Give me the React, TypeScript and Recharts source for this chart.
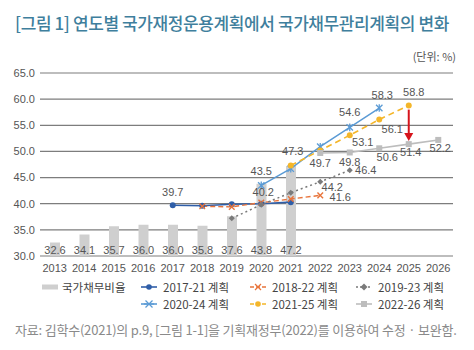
import { ComposedChart, Bar, Line, XAxis, YAxis, CartesianGrid, LabelList, ReferenceLine } from 'recharts';

const years = ['2013', '2014', '2015', '2016', '2017', '2018', '2019', '2020', '2021', '2022', '2023', '2024', '2025', '2026'];
const debtRatio = [32.6, 34.1, 35.7, 36.0, 36.0, 35.8, 37.6, 43.8, 47.2, null, null, null, null, null];
const plan2017 = [null, null, null, null, 39.7, 39.6, 39.9, 40.0, 40.3, null, null, null, null, null];
const plan2018 = [null, null, null, null, null, 39.5, 39.4, 40.2, 40.9, 41.6, null, null, null, null];
const plan2019 = [null, null, null, null, null, null, 37.2, 39.8, 42.1, 44.2, 46.4, null, null, null];
const plan2020 = [null, null, null, null, null, null, null, 43.5, 46.7, 50.9, 54.6, 58.3, null, null];
const plan2021 = [null, null, null, null, null, null, null, null, 47.3, 50.2, 53.1, 56.1, 58.8, null];
const plan2022 = [null, null, null, null, null, null, null, null, null, 49.7, 49.8, 50.6, 51.4, 52.2];
const yTicks = [30, 35, 40, 45, 50, 55, 60, 65];

const data = years.map((year, i) => ({
  year,
  debt: debtRatio[i],
  p2017: plan2017[i],
  p2018: plan2018[i],
  p2019: plan2019[i],
  p2020: plan2020[i],
  p2021: plan2021[i],
  p2022: plan2022[i],
}));

// where each shown value label sits relative to its point [dx, dy]
const labelSpots: Record<string, Record<string, [number, number]>> = {
  p2017: { '2017': [0, -13] },
  p2018: { '2020': [2, -11], '2022': [20, 2] },
  p2019: { '2022': [12, 5], '2023': [16, 0] },
  p2020: { '2020': [0, -14], '2023': [0, -15], '2024': [3, -13] },
  p2021: { '2021': [2, -15], '2023': [13, 7], '2024': [13, 9], '2025': [5, -13] },
  p2022: { '2022': [0, 10], '2023': [0, 10], '2024': [8, 9], '2025': [2, 8], '2026': [2, 8] },
};

const NUM_FONT = '"Liberation Sans", Arial, sans-serif';
const KR_FONT = '"Noto Sans CJK KR", "Noto Sans", sans-serif';

const C = {
  debt: '#cfcfcf',
  p2017: '#2f5ea8',
  p2018: '#e8743b',
  p2019: '#7a7a7a',
  p2020: '#5b9bd5',
  p2021: '#f4b62a',
  p2022: '#bdbdbd',
};

const makeLabel = (key: string) => (props: any) => {
  const { x, y, index, value } = props;
  const spot = labelSpots[key][years[index]];
  if (!spot || value == null) return null;
  return (
    <text
      key={`${key}-lbl-${index}`}
      x={x + spot[0]}
      y={y + spot[1]}
      textAnchor="middle"
      dominantBaseline="central"
      fontSize={11}
      fontFamily={NUM_FONT}
      fill="#555"
    >
      {Number(value).toFixed(1)}
    </text>
  );
};

const circleDot = (color: string, r: number) => (props: any) => {
  const { cx, cy, index, value } = props;
  if (value == null || cx == null || cy == null) return <g key={index} />;
  return <circle key={index} cx={cx} cy={cy} r={r} fill={color} stroke="none" />;
};

const crossDot = (color: string) => (props: any) => {
  const { cx, cy, index, value } = props;
  if (value == null || cx == null || cy == null) return <g key={index} />;
  const s = 2.8;
  return (
    <g key={index} stroke={color} strokeWidth={1.4}>
      <line x1={cx - s} y1={cy - s} x2={cx + s} y2={cy + s} />
      <line x1={cx - s} y1={cy + s} x2={cx + s} y2={cy - s} />
    </g>
  );
};

const starDot = (color: string) => (props: any) => {
  const { cx, cy, index, value } = props;
  if (value == null || cx == null || cy == null) return <g key={index} />;
  const s = 3.2;
  return (
    <g key={index} stroke={color} strokeWidth={1.3}>
      <line x1={cx - s} y1={cy - s} x2={cx + s} y2={cy + s} />
      <line x1={cx - s} y1={cy + s} x2={cx + s} y2={cy - s} />
      <line x1={cx} y1={cy - s - 0.6} x2={cx} y2={cy + s + 0.6} />
    </g>
  );
};

const diamondDot = (color: string) => (props: any) => {
  const { cx, cy, index, value } = props;
  if (value == null || cx == null || cy == null) return <g key={index} />;
  const s = 3;
  return (
    <polygon
      key={index}
      points={`${cx},${cy - s} ${cx + s},${cy} ${cx},${cy + s} ${cx - s},${cy}`}
      fill={color}
    />
  );
};

const squareDot = (color: string) => (props: any) => {
  const { cx, cy, index, value } = props;
  if (value == null || cx == null || cy == null) return <g key={index} />;
  return <rect key={index} x={cx - 3} y={cy - 3} width={6} height={6} fill={color} />;
};

const barLabel = (props: any) => {
  const { x, y, width, height, value, index } = props;
  if (value == null) return null;
  return (
    <text
      key={`bar-${index}`}
      x={x + width / 2}
      y={y + height - 6}
      textAnchor="middle"
      dominantBaseline="central"
      fontSize={11}
      fontFamily={NUM_FONT}
      fill="#555"
    >
      {Number(value).toFixed(1)}
    </text>
  );
};

const arrowShape = (props: any) => {
  const { x1, y1, x2, y2 } = props;
  if (x1 == null) return <g />;
  return (
    <g>
      <line x1={x1} y1={y1} x2={x2} y2={y2 - 7} stroke="#d6141c" strokeWidth={2} />
      <polygon points={`${x2 - 4.5},${y2 - 8} ${x2 + 4.5},${y2 - 8} ${x2},${y2}`} fill="#d6141c" />
    </g>
  );
};

const legendItems = [
  { name: '국가채무비율', kind: 'bar', color: C.debt, col: 0, row: 0 },
  { name: '2017-21 계획', kind: 'circle', color: C.p2017, col: 1, row: 0, dash: undefined },
  { name: '2018-22 계획', kind: 'cross', color: C.p2018, col: 2, row: 0, dash: '4 2' },
  { name: '2019-23 계획', kind: 'diamond', color: C.p2019, col: 3, row: 0, dash: '2 2' },
  { name: '2020-24 계획', kind: 'star', color: C.p2020, col: 1, row: 1, dash: undefined },
  { name: '2021-25 계획', kind: 'circle', color: C.p2021, col: 2, row: 1, dash: '4 2' },
  { name: '2022-26 계획', kind: 'square', color: C.p2022, col: 3, row: 1, dash: undefined },
];

const legendCols = [42, 141, 250, 356];

function LegendIcon({ item, x, y }: any) {
  if (item.kind === 'bar') {
    return <rect x={x} y={y - 2.5} width={16} height={5} fill={item.color} />;
  }
  const cx = x + 8;
  let marker = null;
  if (item.kind === 'circle') marker = <circle cx={cx} cy={y} r={2.8} fill={item.color} />;
  if (item.kind === 'square') marker = <rect x={cx - 3} y={y - 3} width={6} height={6} fill={item.color} />;
  if (item.kind === 'diamond')
    marker = <polygon points={`${cx},${y - 3.5} ${cx + 3.5},${y} ${cx},${y + 3.5} ${cx - 3.5},${y}`} fill={item.color} />;
  if (item.kind === 'cross')
    marker = (
      <g stroke={item.color} strokeWidth={1.3}>
        <line x1={cx - 3} y1={y - 3} x2={cx + 3} y2={y + 3} />
        <line x1={cx - 3} y1={y + 3} x2={cx + 3} y2={y - 3} />
      </g>
    );
  if (item.kind === 'star')
    marker = (
      <g stroke={item.color} strokeWidth={1.3}>
        <line x1={cx - 3.5} y1={y - 3.5} x2={cx + 3.5} y2={y + 3.5} />
        <line x1={cx - 3.5} y1={y + 3.5} x2={cx + 3.5} y2={y - 3.5} />
        <line x1={cx - 5} y1={y} x2={cx + 5} y2={y} />
      </g>
    );
  return (
    <g>
      <line x1={x} y1={y} x2={x + 16} y2={y} stroke={item.color} strokeWidth={1.6} strokeDasharray={item.dash} />
      {marker}
    </g>
  );
}

export default function App() {
  return (
    <div style={{ position: 'absolute', left: 0, top: 0, width: 474, height: 350, background: '#fff', overflow: 'hidden' }}>
      <div
        style={{
          position: 'absolute',
          left: 15,
          top: 12,
          fontFamily: KR_FONT,
          fontSize: 17,
          fontWeight: 500,
          letterSpacing: -0.4,
          color: '#3f7f9d',
          whiteSpace: 'nowrap',
          lineHeight: '22px',
        }}
      >
        [그림 1] 연도별 국가재정운용계획에서 국가채무관리계획의 변화
      </div>
      <div
        style={{
          position: 'absolute',
          right: 18,
          top: 49,
          fontFamily: KR_FONT,
          fontSize: 11,
          color: '#555',
          lineHeight: '14px',
        }}
      >
        (단위: %)
      </div>
      <div style={{ position: 'absolute', left: 0, top: 0 }}>
        <ComposedChart width={474} height={290} data={data} margin={{ top: 73, right: 21, left: 0, bottom: 4 }}>
          <CartesianGrid vertical={false} stroke="#7d7d7d" strokeWidth={1.2} />
          <XAxis
            dataKey="year"
            axisLine={false}
            tickLine={false}
            tick={{ fontSize: 11, fill: '#555', fontFamily: NUM_FONT }}
            interval={0}
            height={30}
          />
          <YAxis
            domain={[30, 65]}
            ticks={yTicks}
            width={40}
            axisLine={false}
            tickLine={false}
            tickSize={0}
            tickMargin={5}
            tickFormatter={(v: number) => v.toFixed(1)}
            tick={{ fontSize: 11, fill: '#555', fontFamily: NUM_FONT }}
            allowDataOverflow
          />
          <Bar dataKey="debt" fill={C.debt} barSize={10} isAnimationActive={false}>
            <LabelList dataKey="debt" content={barLabel} />
          </Bar>
          <Line dataKey="p2017" stroke={C.p2017} strokeWidth={1.6} dot={circleDot(C.p2017, 3)} activeDot={false} label={makeLabel('p2017')} isAnimationActive={false} />
          <Line dataKey="p2018" stroke={C.p2018} strokeWidth={1.4} strokeDasharray="5 3" dot={crossDot(C.p2018)} activeDot={false} label={makeLabel('p2018')} isAnimationActive={false} />
          <Line dataKey="p2019" stroke={C.p2019} strokeWidth={1.5} strokeDasharray="2 3" dot={diamondDot(C.p2019)} activeDot={false} label={makeLabel('p2019')} isAnimationActive={false} />
          <Line dataKey="p2020" stroke={C.p2020} strokeWidth={1.5} dot={starDot(C.p2020)} activeDot={false} label={makeLabel('p2020')} isAnimationActive={false} />
          <Line dataKey="p2021" stroke={C.p2021} strokeWidth={1.6} strokeDasharray="6 4" dot={circleDot(C.p2021, 3)} activeDot={false} label={makeLabel('p2021')} isAnimationActive={false} />
          <Line dataKey="p2022" stroke={C.p2022} strokeWidth={1.6} dot={squareDot(C.p2022)} activeDot={false} label={makeLabel('p2022')} isAnimationActive={false} />
          <ReferenceLine
            segment={[{ x: '2025', y: 58.0 }, { x: '2025', y: 52.0 }]}
            shape={arrowShape}
            ifOverflow="visible"
          />
        </ComposedChart>
      </div>
      <svg style={{ position: 'absolute', left: 0, top: 276 }} width={474} height={40}>
        {legendItems.map((item) => {
          const x = legendCols[item.col];
          const y = 11 + item.row * 17;
          return (
            <g key={item.name}>
              <LegendIcon item={item} x={x} y={y} />
              <text x={x + (item.kind === 'bar' ? 20 : 22)} y={y} dominantBaseline="central" fontSize={11.5} fontFamily={KR_FONT} fill="#444">
                {item.name}
              </text>
            </g>
          );
        })}
      </svg>
      <div
        style={{
          position: 'absolute',
          left: 15,
          top: 321,
          fontFamily: KR_FONT,
          fontSize: 13,
          color: '#8a8a8a',
          whiteSpace: 'nowrap',
          lineHeight: '18px',
          letterSpacing: -0.2,
        }}
      >
        자료: 김학수(2021)의 p.9, [그림 1-1]을 기획재정부(2022)를 이용하여 수정 · 보완함.
      </div>
    </div>
  );
}
